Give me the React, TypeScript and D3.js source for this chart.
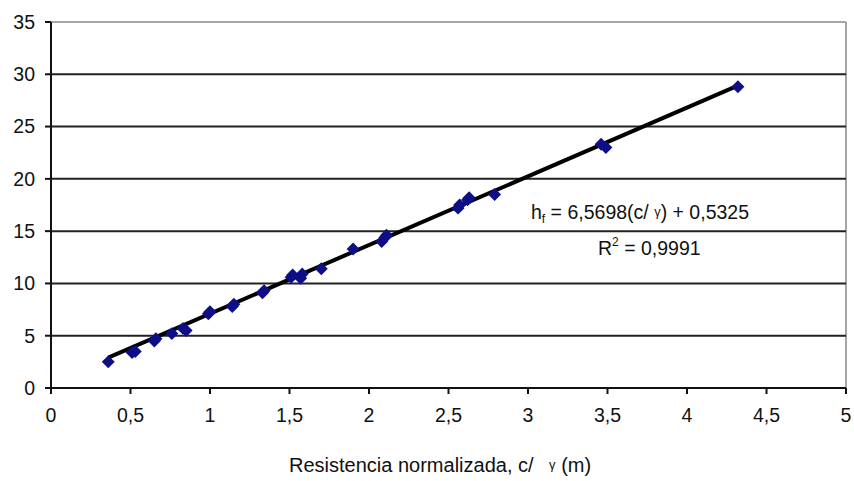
import * as d3 from 'd3'

// Measured points: normalized resistance c/γ (m) vs h_f
const resist = [0.36, 0.51, 0.53, 0.65, 0.66, 0.76, 0.83, 0.85, 0.99, 1.0, 1.14, 1.15, 1.33, 1.34, 1.51, 1.52, 1.57, 1.58, 1.7, 1.9, 2.08, 2.1, 2.11, 2.56, 2.57, 2.62, 2.63, 2.79, 3.46, 3.49, 4.32]
const hf = [2.5, 3.4, 3.5, 4.5, 4.7, 5.2, 5.7, 5.5, 7.1, 7.3, 7.8, 8.0, 9.1, 9.3, 10.6, 10.8, 10.5, 10.9, 11.4, 13.3, 14.0, 14.4, 14.6, 17.2, 17.5, 18.0, 18.2, 18.5, 23.3, 23.0, 28.8]

const slope = 6.5698
const intercept = 0.5325

const xTicks = [0, 0.5, 1, 1.5, 2, 2.5, 3, 3.5, 4, 4.5, 5]
const yTicks = [0, 5, 10, 15, 20, 25, 30, 35]

const W = 854
const H = 481
const margin = { top: 22, right: 8, bottom: 93, left: 51 }

export default function App() {
  const x = d3.scaleLinear().domain([0, 5]).range([margin.left, W - margin.right])
  const y = d3.scaleLinear().domain([0, 35]).range([H - margin.bottom, margin.top])
  const fmt = (v: number) => String(v).replace('.', ',')

  const pts = resist.map((r, i) => ({ r, h: hf[i] }))
  const [x0, x1] = d3.extent(resist) as [number, number]
  const trend = d3.line<number>()
    .x(d => x(d))
    .y(d => y(slope * d + intercept))([x0, x1])

  const diamond = d3.symbol().type(d3.symbolSquare).size(84)()

  const font = '"Liberation Sans", Arial, sans-serif'
  const fs = 19.5

  return (
    <svg width={W} height={H} style={{ position: 'absolute', left: 0, top: 0, background: '#fff' }} fontFamily={font}>
      {/* plot border top/right */}
      <line x1={x(0)} x2={x(5)} y1={y(35)} y2={y(35)} stroke="#888" strokeWidth={1.5} />
      <line x1={x(5)} x2={x(5)} y1={y(35)} y2={y(0)} stroke="#888" strokeWidth={1.5} />

      {/* gridlines */}
      {yTicks.filter(t => t > 0 && t < 35).map(t => (
        <line key={t} x1={x(0)} x2={x(5)} y1={y(t)} y2={y(t)} stroke="#222" strokeWidth={2} />
      ))}

      {/* axes */}
      <line x1={x(0)} x2={x(0)} y1={y(35)} y2={y(0)} stroke="#111" strokeWidth={2} />
      <line x1={x(0)} x2={x(5)} y1={y(0)} y2={y(0)} stroke="#111" strokeWidth={2} />

      {yTicks.map(t => (
        <g key={t}>
          <line x1={x(0) - 6} x2={x(0)} y1={y(t)} y2={y(t)} stroke="#111" strokeWidth={2} />
          <text x={x(0) - 16} y={y(t)} dy="0.35em" textAnchor="end" fontSize={fs} fill="#111">{t}</text>
        </g>
      ))}
      {xTicks.map(t => (
        <g key={t}>
          <line x1={x(t)} x2={x(t)} y1={y(0)} y2={y(0) + 6} stroke="#111" strokeWidth={2} />
          <text x={x(t)} y={y(0) + 27} dy="0.35em" textAnchor="middle" fontSize={fs} fill="#111">{fmt(t)}</text>
        </g>
      ))}

      {/* trend line */}
      <path d={trend ?? ''} fill="none" stroke="#000" strokeWidth={4} />

      {/* data markers */}
      {pts.map((p, i) => (
        <path key={i} d={diamond ?? ''} transform={`translate(${x(p.r)},${y(p.h)}) rotate(45)`} fill="#0e0e86" />
      ))}

      {/* equation */}
      <text x={531} y={219} fontSize={fs} fill="#111">
        h<tspan fontSize={12} dy={4}>f</tspan>
        <tspan dy={-4}> = 6,5698(c/ </tspan>
        <tspan fontSize={13} dy={-3}>γ</tspan>
        <tspan dy={3}>) + 0,5325</tspan>
      </text>
      <text x={598} y={255} fontSize={fs} fill="#111">
        R<tspan fontSize={12} dy={-9}>2</tspan>
        <tspan dy={9}> = 0,9991</tspan>
      </text>

      {/* axis title */}
      <text x={289} y={472} fontSize={20} fill="#111">
        Resistencia normalizada, c/ <tspan fontSize={13} dx={10} dy={-3}>γ</tspan><tspan dy={3}> (m)</tspan>
      </text>
    </svg>
  )
}
